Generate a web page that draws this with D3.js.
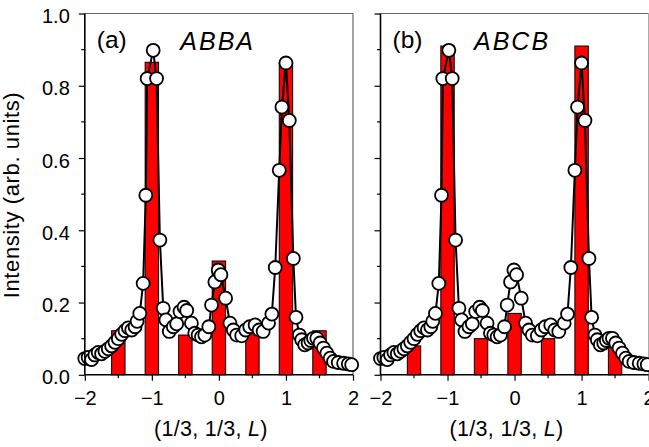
<!DOCTYPE html>
<html><head><meta charset="utf-8">
<script src="https://cdn.jsdelivr.net/npm/d3@7"></script>
<style>
body{margin:0;background:#fff}
svg{display:block}
text{font-family:"Liberation Sans",Arial,Helvetica,sans-serif;fill:#000}
</style>
</head><body>
<svg id="c" width="649" height="447"></svg>
<script>
// Measured (circles), same data in both panels
const obsL = [-2.00,-1.95,-1.90,-1.85,-1.80,-1.75,-1.70,-1.65,-1.60,-1.55,-1.50,-1.45,-1.40,-1.35,-1.30,-1.25,-1.22,-1.18,-1.13,-1.09,-1.07,-0.98,-0.93,-0.88,-0.83,-0.79,-0.74,-0.68,-0.63,-0.58,-0.52,-0.48,-0.41,-0.36,-0.31,-0.26,-0.21,-0.15,-0.11,-0.06,-0.01,0.03,0.10,0.165,0.215,0.265,0.34,0.40,0.46,0.54,0.60,0.66,0.74,0.79,0.84,0.90,0.94,1.00,1.05,1.11,1.15,1.20,1.235,1.28,1.33,1.37,1.41,1.46,1.51,1.56,1.61,1.66,1.71,1.78,1.86,1.93,1.98];
const obsI = [0.045,0.048,0.042,0.055,0.062,0.058,0.065,0.072,0.080,0.090,0.100,0.112,0.122,0.130,0.124,0.133,0.148,0.170,0.253,0.497,0.820,0.898,0.820,0.373,0.184,0.152,0.120,0.133,0.141,0.175,0.187,0.178,0.143,0.115,0.110,0.105,0.110,0.133,0.193,0.257,0.290,0.277,0.212,0.143,0.124,0.110,0.108,0.124,0.133,0.138,0.124,0.120,0.143,0.168,0.297,0.566,0.741,0.863,0.704,0.322,0.159,0.110,0.097,0.083,0.088,0.095,0.101,0.101,0.088,0.074,0.060,0.046,0.037,0.034,0.032,0.030,0.028];
// Calculated (bars)
const barL = [-1.5,-1,-0.5,0,0.5,1,1.5];
const barABBA = [0.122,0.865,0.11,0.315,0.115,0.865,0.122];
const barABCB = [0.08,0.91,0.10,0.17,0.10,0.91,0.075];
const xMajor = [-2,-1,0,1,2];
const xMinor = [-1.5,-0.5,0.5,1.5];
const yMajor = [0,0.2,0.4,0.6,0.8,1.0];
const yMinor = [0.1,0.3,0.5,0.7,0.9];
const panelTags = ["(a)","(b)"];
const panelModels = ["ABBA","ABCB"];
const panelBars = [barABBA, barABCB];
const yTitle = "Intensity (arb. units)";

const svg = d3.select("#c");
const ranges = [[84.8,353],[380.5,648.6]];
const y = d3.scaleLinear().domain([0,1]).range([374.8,13.5]);

ranges.forEach((r,pi)=>{
  const x = d3.scaleLinear().domain([-2,2]).range(r);
  const g = svg.append("g");
  g.append("line").attr("x1",r[0]).attr("x2",r[1]).attr("y1",y(1)).attr("y2",y(1)).attr("stroke","#666").attr("stroke-width",1.2);
  g.append("line").attr("x1",r[1]).attr("x2",r[1]).attr("y1",y(1)).attr("y2",y(0)).attr("stroke",pi===0?"#666":"#aaa").attr("stroke-width",1.2);
  const bw = x(0.1)-x(0);
  g.selectAll("rect.bar").data(barL.map((l,i)=>({l,v:panelBars[pi][i]}))).join("rect")
    .attr("x",d=>x(d.l)-bw).attr("width",2*bw)
    .attr("y",d=>y(d.v)).attr("height",d=>y(0)-y(d.v))
    .attr("fill","#ff0000").attr("stroke","#000").attr("stroke-width",1);
  const pts = obsL.map((l,i)=>[l,obsI[i]]);
  g.append("path").datum(pts).attr("fill","none").attr("stroke","#000").attr("stroke-width",2)
    .attr("d",d3.line().x(d=>x(d[0])).y(d=>y(d[1])));
  g.selectAll("circle").data(pts).join("circle")
    .attr("cx",d=>x(d[0])).attr("cy",d=>y(d[1])).attr("r",6.5)
    .attr("fill","#fff").attr("stroke","#000").attr("stroke-width",1.8);
  const xa = g.append("g").attr("transform",`translate(0,${y(0)})`);
  xa.call(d3.axisBottom(x).tickValues(xMajor).tickSize(6).tickPadding(8).tickFormat(d=>d<0?"\u2212"+Math.abs(d):d));
  xa.call(a=>a.select(".domain").attr("stroke","#000").attr("stroke-width",1.6).attr("d",`M${r[0]},0H${r[1]}`));
  xa.selectAll(".tick line").attr("stroke","#000").attr("stroke-width",1.2);
  xa.selectAll(".tick text").attr("font-size",20).attr("font-family","Liberation Sans, Arial, sans-serif").attr("dy","0.8em");
  xa.selectAll("line.minor").data(xMinor).join("line").attr("class","minor")
    .attr("x1",d=>x(d)).attr("x2",d=>x(d)).attr("y1",0).attr("y2",3.5).attr("stroke","#000").attr("stroke-width",1.2);
  const ya = g.append("g").attr("transform",`translate(${r[0]},0)`);
  ya.call(d3.axisLeft(y).tickValues(yMajor).tickSize(6).tickPadding(9).tickFormat(pi===0?d3.format(".1f"):()=> ""));
  ya.call(a=>a.select(".domain").attr("stroke","#000").attr("stroke-width",1.6).attr("d",`M0,${y(0)}V${y(1)}`));
  ya.selectAll(".tick line").attr("stroke","#000").attr("stroke-width",1.2);
  ya.selectAll(".tick text").attr("font-size",20).attr("font-family","Liberation Sans, Arial, sans-serif").attr("dy","0.45em");
  ya.selectAll("line.minor").data(yMinor).join("line").attr("class","minor")
    .attr("x1",0).attr("x2",-3.5).attr("y1",d=>y(d)).attr("y2",d=>y(d)).attr("stroke","#000").attr("stroke-width",1.2);
  g.append("text").attr("x",r[0]+12).attr("y",48).attr("font-size",24.5).text(panelTags[pi]);
  g.append("text").attr("x",r[0]+95.5+(pi===1?-2:0)).attr("y",49.5).attr("font-size",25).attr("font-style","italic")
    .attr("letter-spacing",2).text(panelModels[pi]);
  const xt = g.append("text").attr("x",(r[0]+r[1])/2-8).attr("y",436).attr("font-size",21.5).attr("text-anchor","middle").attr("letter-spacing",0.3);
  xt.append("tspan").text("(1/3, 1/3, ");
  xt.append("tspan").attr("font-style","italic").text("L");
  xt.append("tspan").text(")");
});
svg.append("text").attr("transform","translate(19,195) rotate(-90)").attr("text-anchor","middle")
  .attr("font-size",22).attr("letter-spacing",0.6).text(yTitle);
</script>
</body></html>
